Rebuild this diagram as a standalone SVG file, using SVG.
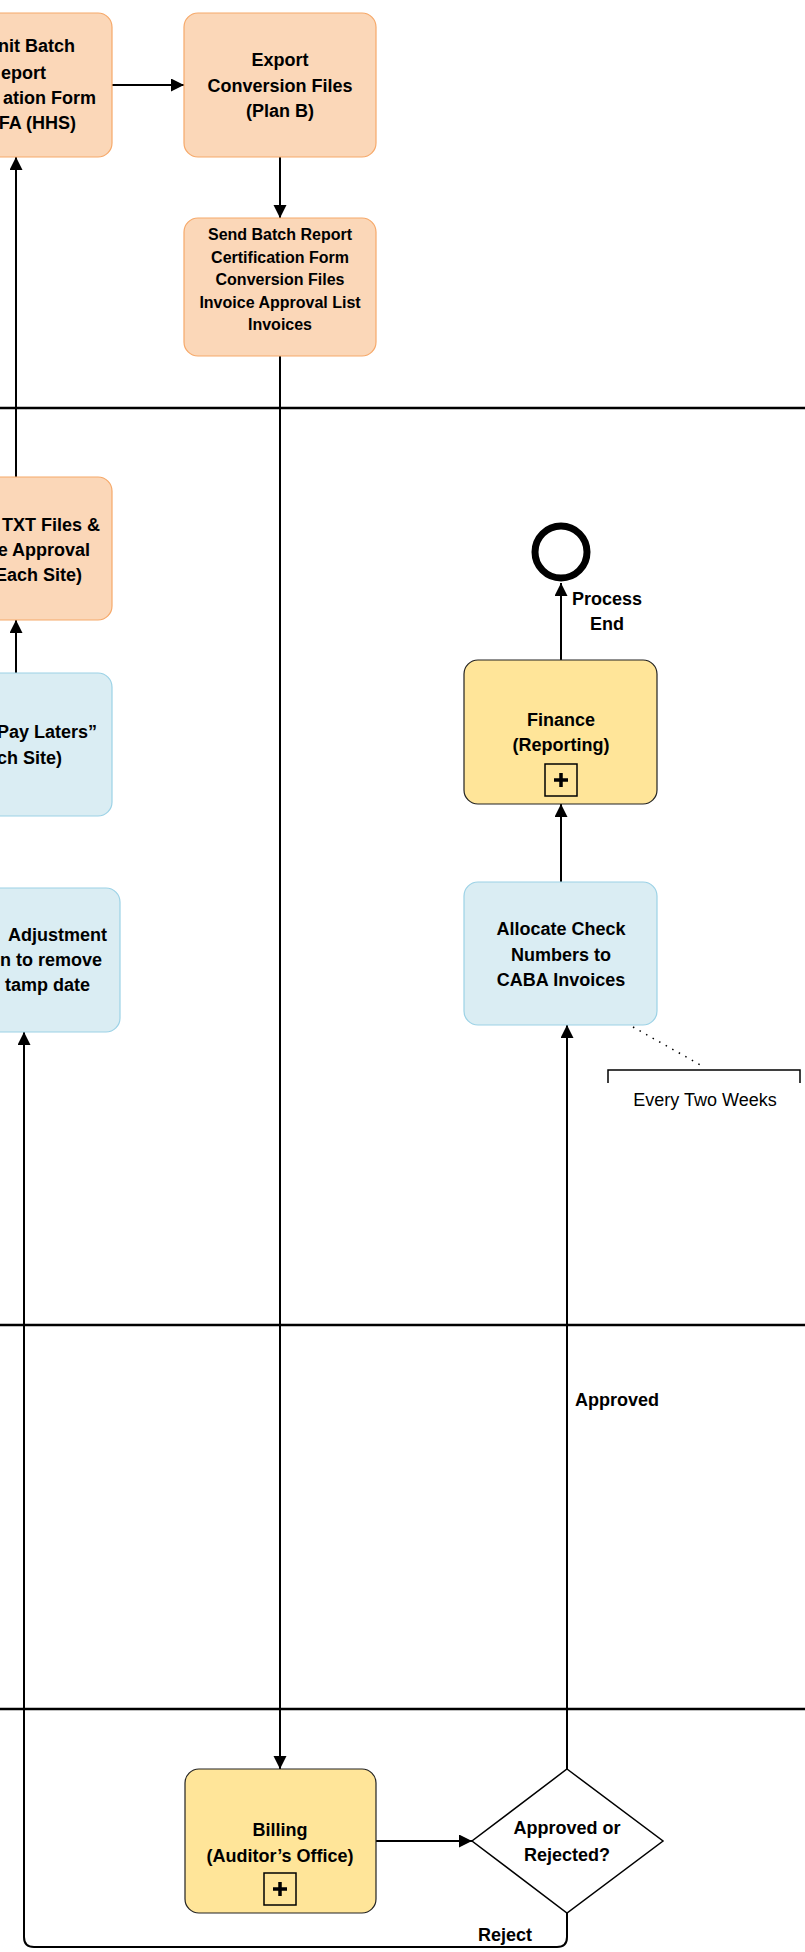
<svg xmlns="http://www.w3.org/2000/svg" width="805" height="1952" viewBox="0 0 805 1952">
<style>
.t{font-family:"Liberation Sans",Arial,sans-serif;font-weight:bold;font-size:18px;fill:#000;text-anchor:middle}
.ts{font-size:16px}
.te{text-anchor:end}
.tst{text-anchor:start}
.tr{font-weight:normal}
.org{fill:#FBD7B8;stroke:#F6A96A;stroke-width:1.2}
.blu{fill:#DAEDF3;stroke:#9CD2E6;stroke-width:1.2}
.yel{fill:#FFE599;stroke:#222;stroke-width:1.2}
.lane{stroke:#000;stroke-width:2.5;fill:none}
.c{stroke:#000;stroke-width:2;fill:none}
.pbox{fill:none;stroke:#000;stroke-width:1.5}
.plus{stroke:#000;stroke-width:3.5;fill:none}
</style>
<defs>
<marker id="ah" markerUnits="userSpaceOnUse" markerWidth="14" markerHeight="14" refX="13" refY="6.5" orient="auto">
<path d="M0,0 L13,6.5 L0,13 z" fill="#000"/>
</marker>
</defs>
<rect x="0" y="0" width="805" height="1952" fill="#fff"/>
<g id="lanes">
<line class="lane" x1="0" y1="408" x2="805" y2="408"/>
<line class="lane" x1="0" y1="1325" x2="805" y2="1325"/>
<line class="lane" x1="0" y1="1709" x2="805" y2="1709"/>
</g>
<g id="connectors">
<path class="c" d="M112,85 H184" marker-end="url(#ah)"/>
<path class="c" d="M280,157 V218" marker-end="url(#ah)"/>
<path class="c" d="M280,356 V1769" marker-end="url(#ah)"/>
<path class="c" d="M16,477 V157" marker-end="url(#ah)"/>
<path class="c" d="M16,673 V620" marker-end="url(#ah)"/>
<path class="c" d="M376,1841 H472" marker-end="url(#ah)"/>
<path class="c" d="M567,1769 V1025" marker-end="url(#ah)"/>
<path class="c" d="M561,882 V804" marker-end="url(#ah)"/>
<path class="c" d="M561,660 V583" marker-end="url(#ah)"/>
<path class="c" d="M567,1913 V1937 Q567,1947 557,1947 H34 Q24,1947 24,1937 V1032" marker-end="url(#ah)"/>
<path d="M633,1027 L704,1067" stroke="#000" stroke-width="1.5" stroke-dasharray="1.5,6" fill="none"/>
<text class="t tst" x="575" y="1406">Approved</text>
<text class="t" x="505" y="1941">Reject</text>
</g>
<g id="node-submit">
<rect class="org" x="-80" y="13" width="192" height="144" rx="14"/>
<text class="t te" x="75" y="52">nit Batch</text>
<text class="t te" x="46" y="79">eport</text>
<text class="t te" x="96" y="104">ation Form</text>
<text class="t te" x="76" y="129">FA (HHS)</text>
</g>
<g id="node-export">
<rect class="org" x="184" y="13" width="192" height="144" rx="14"/>
<text class="t" x="280" y="66">Export</text>
<text class="t" x="280" y="92">Conversion Files</text>
<text class="t" x="280" y="117">(Plan B)</text>
</g>
<g id="node-send">
<rect class="org" x="184" y="218" width="192" height="138" rx="14"/>
<text class="t ts" x="280" y="240">Send Batch Report</text>
<text class="t ts" x="280" y="263">Certification Form</text>
<text class="t ts" x="280" y="285">Conversion Files</text>
<text class="t ts" x="280" y="308">Invoice Approval List</text>
<text class="t ts" x="280" y="330">Invoices</text>
</g>
<g id="node-txt">
<rect class="org" x="-80" y="477" width="192" height="143" rx="14"/>
<text class="t te" x="100" y="531">TXT Files &amp;</text>
<text class="t te" x="90" y="556">e Approval</text>
<text class="t te" x="82" y="581">Each Site)</text>
</g>
<g id="node-paylaters">
<rect class="blu" x="-80" y="673" width="192" height="143" rx="14"/>
<text class="t te" x="97" y="738">Pay Laters”</text>
<text class="t te" x="62" y="764">ch Site)</text>
</g>
<g id="node-adjust">
<rect class="blu" x="-72" y="888" width="192" height="144" rx="14"/>
<text class="t te" x="107" y="941">Adjustment</text>
<text class="t te" x="102" y="966">n to remove</text>
<text class="t te" x="90" y="991">tamp date</text>
</g>
<g id="node-end">
<circle cx="561" cy="552" r="26" fill="#fff" stroke="#000" stroke-width="7"/>
<text class="t" x="607" y="605" font-size="17">Process</text>
<text class="t" x="607" y="630" font-size="17">End</text>
</g>
<g id="node-finance">
<rect class="yel" x="464" y="660" width="193" height="144" rx="14"/>
<text class="t" x="561" y="726">Finance</text>
<text class="t" x="561" y="751">(Reporting)</text>
<rect class="pbox" x="545" y="764" width="32" height="32"/>
<path class="plus" d="M561,773 V787 M554,780 H568"/>
</g>
<g id="node-allocate">
<rect class="blu" x="464" y="882" width="193" height="143" rx="14"/>
<text class="t" x="561" y="935">Allocate Check</text>
<text class="t" x="561" y="961">Numbers to</text>
<text class="t" x="561" y="986">CABA Invoices</text>
</g>
<g id="node-annotation">
<path d="M608,1083 V1070 H800 V1083" stroke="#000" stroke-width="1.5" fill="none"/>
<text class="t tr" x="705" y="1106">Every Two Weeks</text>
</g>
<g id="node-billing">
<rect class="yel" x="185" y="1769" width="191" height="144" rx="14"/>
<text class="t" x="280" y="1836">Billing</text>
<text class="t" x="280" y="1862">(Auditor’s Office)</text>
<rect class="pbox" x="264" y="1873" width="32" height="32"/>
<path class="plus" d="M280,1882 V1896 M273,1889 H287"/>
</g>
<g id="node-decision">
<path d="M567,1769 L663,1841 L567,1913 L472,1841 Z" fill="#fff" stroke="#000" stroke-width="1.5"/>
<text class="t" x="567" y="1834">Approved or</text>
<text class="t" x="567" y="1861">Rejected?</text>
</g>
</svg>
